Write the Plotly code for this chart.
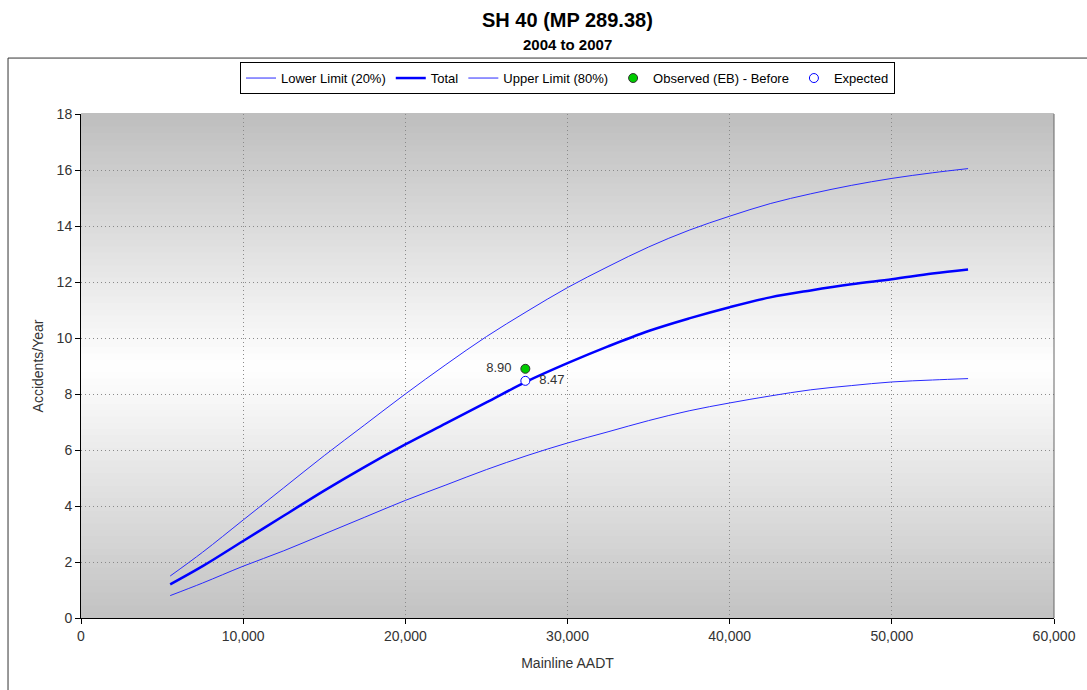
import plotly.graph_objects as go

aadt = [5500, 7500, 10000, 12500, 15000, 17500, 20000, 22500, 25000, 27500, 30000,
        32500, 35000, 37500, 40000, 42500, 45000, 47500, 50000, 52500, 54700]
total = [1.2, 1.85, 2.75, 3.65, 4.55, 5.4, 6.2, 6.95, 7.7, 8.45, 9.1,
         9.7, 10.25, 10.7, 11.1, 11.45, 11.7, 11.92, 12.1, 12.3, 12.45]
upper = [1.5, 2.35, 3.5, 4.65, 5.8, 6.9, 8.0, 9.05, 10.05, 10.95, 11.8,
         12.55, 13.25, 13.85, 14.35, 14.8, 15.15, 15.45, 15.7, 15.9, 16.05]
lower = [0.8, 1.25, 1.85, 2.4, 3.0, 3.6, 4.2, 4.75, 5.3, 5.8, 6.25,
         6.65, 7.05, 7.4, 7.68, 7.93, 8.15, 8.3, 8.43, 8.5, 8.55]
obs_x = [27400]
obs_y = [8.90]
exp_x = [27400]
exp_y = [8.47]

FONT = "Liberation Sans, Arial, sans-serif"
TXT = "#333333"

fig = go.Figure()
fig.add_trace(go.Scatter(x=aadt, y=lower, mode="lines", name="Lower Limit (20%)",
                         line=dict(color="#2a2aff", width=1, shape="spline")))
fig.add_trace(go.Scatter(x=aadt, y=total, mode="lines", name="Total",
                         line=dict(color="#0000ff", width=2.5, shape="spline")))
fig.add_trace(go.Scatter(x=aadt, y=upper, mode="lines", name="Upper Limit (80%)",
                         line=dict(color="#2a2aff", width=1, shape="spline")))
fig.add_trace(go.Scatter(x=obs_x, y=obs_y, mode="markers+text", name="Observed (EB) - Before",
                         marker=dict(color="#00cc00", size=9, line=dict(color="#333333", width=1)),
                         text=[f"{v:.2f}  " for v in obs_y], textposition="middle left",
                         textfont=dict(size=13, color=TXT, family=FONT)))
fig.add_trace(go.Scatter(x=exp_x, y=exp_y, mode="markers+text", name="Expected",
                         marker=dict(color="white", size=9, line=dict(color="#0000ff", width=1)),
                         text=["  " + f"{v:.2f}" for v in exp_y], textposition="middle right",
                         textfont=dict(size=13, color=TXT, family=FONT)))

# gradient background stripes
shapes = []
N = 80
top_c, mid_c, bot_c = 190, 255, 194
for i in range(N):
    y0 = i / N
    y1 = (i + 1) / N
    t = (y0 + y1) / 2
    center = 0.5
    if t >= center:
        f = (t - center) / (1 - center)
        c = mid_c + (top_c - mid_c) * f
    else:
        f = (center - t) / center
        c = mid_c + (bot_c - mid_c) * f
    c = int(round(c))
    shapes.append(dict(type="rect", xref="x domain", yref="y domain", x0=0, x1=1,
                       y0=y0, y1=y1 + 0.002, layer="below", line=dict(width=0),
                       fillcolor=f"rgb({c},{c},{c})"))
# right plot edge
shapes.append(dict(type="line", xref="x domain", yref="y domain", x0=1, x1=1, y0=0, y1=1,
                   line=dict(color="#666666", width=1)))
# outer frame
shapes.append(dict(type="rect", xref="paper", yref="paper", x0=-0.075, x1=1.1, y0=-0.2, y1=1.111,
                   line=dict(color="#333333", width=1)))

annotations = [
    dict(text="<b>SH 40 (MP 289.38)</b>", xref="paper", yref="paper", x=0.5, y=1.1865,
         xanchor="center", yanchor="middle", showarrow=False,
         font=dict(size=20, color="black", family=FONT)),
    dict(text="<b>2004 to 2007</b>", xref="paper", yref="paper", x=0.5, y=1.137,
         xanchor="center", yanchor="middle", showarrow=False,
         font=dict(size=15, color="black", family=FONT)),
]

GRID = dict(showgrid=True, gridcolor="#8a8a8a", griddash="1px,3px", gridwidth=1)

fig.update_layout(
    width=1087, height=690,
    margin=dict(l=81, r=33, t=114, b=72),
    paper_bgcolor="white",
    plot_bgcolor="white",
    font=dict(family=FONT, size=14, color=TXT),
    annotations=annotations,
    legend=dict(orientation="h", x=0.5, xanchor="center", y=1.103, yanchor="top",
                bordercolor="black", borderwidth=1, bgcolor="white",
                font=dict(size=13, color="black", family=FONT),
                itemwidth=30, tracegroupgap=0),
    showlegend=True,
    shapes=shapes,
    xaxis=dict(range=[0, 60000], dtick=10000, tickformat=",d", showline=True, linecolor="black",
               linewidth=1, ticks="outside", ticklen=5, tickcolor="black",
               zeroline=False, title=dict(text="Mainline AADT", font=dict(size=14, color=TXT)),
               tickfont=dict(size=14, color=TXT), **GRID),
    yaxis=dict(range=[0, 18], dtick=2, showline=True, linecolor="black", linewidth=1,
               ticks="outside", ticklen=5, tickcolor="black",
               zeroline=False, title=dict(text="Accidents/Year", font=dict(size=14, color=TXT),
                                          standoff=9),
               tickfont=dict(size=14, color=TXT), **GRID),
)

fig.write_html("out.html")
